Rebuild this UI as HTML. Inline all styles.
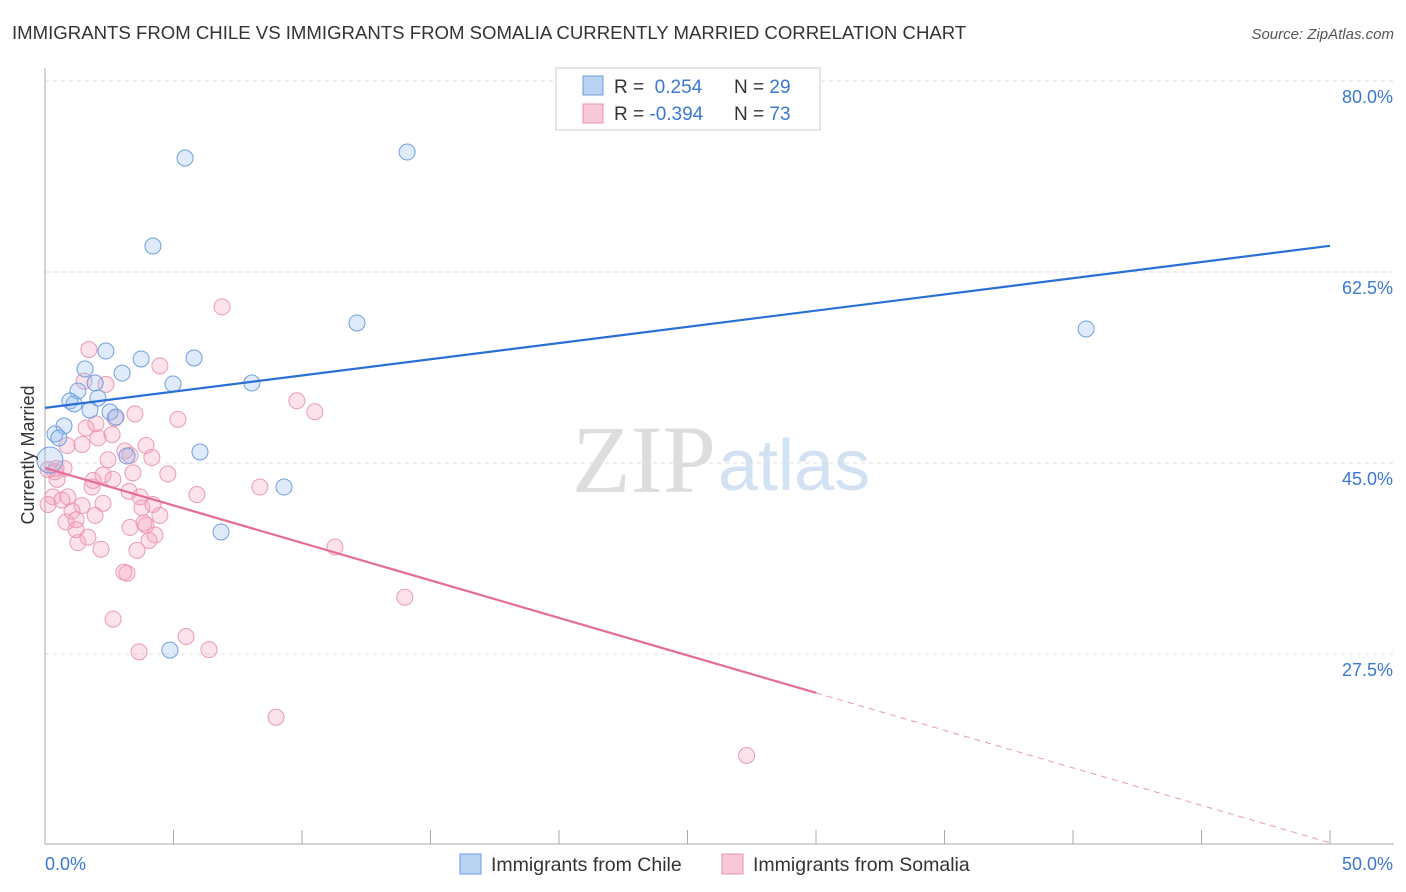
<!DOCTYPE html>
<html><head><meta charset="utf-8"><style>
body{margin:0;background:#fff;font-family:"Liberation Sans",sans-serif}
svg{display:block}
</style></head><body>
<svg id="c" width="1406" height="892" xmlns="http://www.w3.org/2000/svg">
<text x="12" y="39" font-size="18.6" fill="#333">IMMIGRANTS FROM CHILE VS IMMIGRANTS FROM SOMALIA CURRENTLY MARRIED CORRELATION CHART</text>
<text x="1394" y="39" font-size="15" fill="#555" font-style="italic" text-anchor="end">Source: ZipAtlas.com</text>
<text x="716" y="492" font-size="96" fill="#ddd" font-family="Liberation Serif,serif" text-anchor="end">ZIP</text>
<text x="718" y="490" font-size="72" fill="#d3e2f3" text-anchor="start">atlas</text>
<g id="grid"></g>
<g id="axes"></g>
<g id="pts"></g>
<g id="lines"></g>
<text x="34" y="455" font-size="18" fill="#333" text-anchor="middle" transform="rotate(-90 34 455)">Currently Married</text>
<g>
<rect x="556" y="68" width="264" height="62" fill="#fff" stroke="#ccc"/>
<rect x="583" y="76" width="20" height="19" fill="#b9d3f3" stroke="#6a9ee0"/>
<rect x="583" y="104" width="20" height="19" fill="#f9c8d6" stroke="#e891ad"/>
<text x="614" y="93" font-size="19" fill="#333">R = <tspan fill="#3a78d4">&#160;0.254</tspan><tspan x="734">N = </tspan><tspan fill="#3a78d4">29</tspan></text>
<text x="614" y="120" font-size="19" fill="#333">R = <tspan fill="#3a78d4">-0.394</tspan><tspan x="734">N = </tspan><tspan fill="#3a78d4">73</tspan></text>
</g>
<g>
<rect x="460" y="854" width="21" height="20" fill="#b9d3f3" stroke="#6a9ee0"/>
<text x="491" y="871" font-size="19.5" fill="#333">Immigrants from Chile</text>
<rect x="722" y="854" width="21" height="20" fill="#f9c8d6" stroke="#e891ad"/>
<text x="753" y="871" font-size="19.5" fill="#333">Immigrants from Somalia</text>
</g>
</svg>
<script>
const yTicks=[80,62.5,45,27.5];
const yTickLabels=["80.0%","62.5%","45.0%","27.5%"];
const xLabels=["0.0%","50.0%"];
const chileX=[5.45,14.09,4.20,12.14,40.51,2.37,3.74,5.80,1.56,3.00,4.98,8.05,1.95,1.28,0.97,1.13,2.06,1.75,2.53,2.76,0.74,0.39,0.54,6.03,3.19,9.30,6.85,4.86,0.19];
const chileY=[72.94,73.49,64.88,57.83,57.28,55.26,54.53,54.62,53.61,53.24,52.24,52.33,52.33,51.6,50.68,50.41,50.96,49.85,49.67,49.21,48.39,47.66,47.29,46.01,45.64,42.8,38.68,27.86,45.27];
const somX=[6.89,1.71,4.47,1.52,2.37,9.80,10.50,5.17,3.50,2.72,2.61,1.98,1.60,1.44,0.86,2.06,3.93,3.11,3.31,2.45,4.16,4.78,3.42,2.26,0.43,0.74,0.12,0.39,1.87,1.83,0.47,2.64,3.27,3.70,5.91,8.36,0.89,0.31,0.12,2.26,1.44,0.66,3.77,4.20,3.85,4.47,1.05,1.21,1.95,0.82,3.31,3.93,1.21,1.67,4.28,4.05,1.28,2.18,3.58,11.28,3.07,3.19,14.0,2.65,5.49,6.38,3.66,8.99,27.3];
const somY=[59.3,55.4,53.9,52.5,52.2,50.7,49.7,49.0,49.5,49.1,47.6,48.6,48.2,46.7,46.6,47.3,46.6,46.1,45.7,45.3,45.5,44.0,44.1,43.9,44.5,44.5,44.4,44.2,43.4,42.8,43.5,43.5,42.4,41.9,42.1,42.8,41.9,41.9,41.2,41.3,41.1,41.6,40.9,41.2,39.5,40.2,40.6,39.8,40.2,39.6,39.1,39.3,38.9,38.2,38.4,37.9,37.7,37.1,37.0,37.3,35.0,34.9,32.7,30.7,29.1,27.9,27.7,21.7,18.2];
const chileTrend=[50.05,64.9];
const somTrend=[44.55,10.2];
const somSolidEnd=30;
const NS="http://www.w3.org/2000/svg";
const X=v=>45+v*1285/50, Y=v=>81+(80-v)*191/17.5;
function mk(t,a,p){const e=document.createElementNS(NS,t);for(const k in a)e.setAttribute(k,a[k]);document.getElementById(p).appendChild(e);return e;}
yTicks.forEach((t,i)=>{
 const l=mk('line',{x1:45,x2:1394,y1:Y(t),y2:Y(t),stroke:'#ddd','stroke-dasharray':'4,4'},'grid');
 
 
 const tx=mk('text',{x:1393,y:Y(t)+22,'font-size':18,fill:'#3a78d4','text-anchor':'end'},'axes');
 tx.textContent=yTickLabels[i];
 
 
});
let ax=mk('line',{x1:45,x2:45,y1:68,y2:844,stroke:'#aaa'},'axes');


ax=mk('line',{x1:45,x2:1394,y1:844,y2:844,stroke:'#aaa'},'axes');


for(let i=0;i<=10;i++){const t=mk('line',{x1:X(i*5),x2:X(i*5),y1:830,y2:844,stroke:'#aaa'},'axes');
 
 }
let xl=mk('text',{x:45,y:870,'font-size':18,fill:'#3a78d4'},'axes');xl.textContent=xLabels[0];


xl=mk('text',{x:1393,y:870,'font-size':18,fill:'#3a78d4','text-anchor':'end'},'axes');xl.textContent=xLabels[1];


somX.forEach((v,i)=>{const c=mk('circle',{cx:X(v),cy:Y(somY[i]),r:8,fill:'rgba(244,160,186,0.3)',stroke:'#eb9ab3','stroke-width':1},'pts');
 
 });
chileX.forEach((v,i)=>{const big=i===chileX.length-1;const c=mk('circle',{cx:X(v),cy:Y(chileY[i]),r:big?13:8,fill:'rgba(150,190,240,0.3)',stroke:'#6e9fe0','stroke-width':1},'pts');
 
 });
let ln=mk('line',{x1:X(0),y1:Y(chileTrend[0]),x2:X(50),y2:Y(chileTrend[1]),stroke:'#2a6fd6','stroke-width':2.2},'lines');


const sy=x=>somTrend[0]+(somTrend[1]-somTrend[0])*x/50;
ln=mk('line',{x1:X(0),y1:Y(sy(0)),x2:X(somSolidEnd),y2:Y(sy(somSolidEnd)),stroke:'#e46c96','stroke-width':2.2},'lines');


ln=mk('line',{x1:X(somSolidEnd),y1:Y(sy(somSolidEnd)),x2:X(50),y2:Y(sy(50)),stroke:'#e89ab3','stroke-width':1,'stroke-dasharray':'6,5'},'lines');


</script>
</body></html>
